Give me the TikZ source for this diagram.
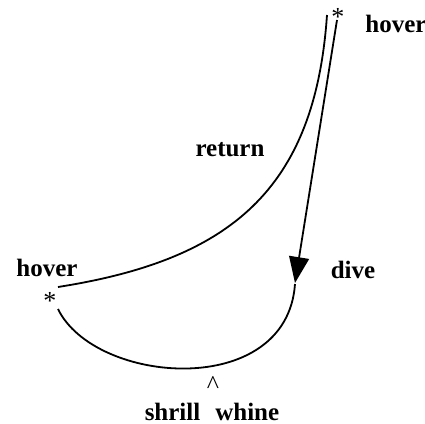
\documentclass[tikz,border=0pt]{standalone}
\usepackage{fontspec}
\setmainfont{Liberation Serif}
\usepackage{tikz}
\usetikzlibrary{arrows.meta,positioning}

\begin{document}
\begin{tikzpicture}[x=0.5pt,y=-0.5pt,line width=0.9pt]
\tikzstyle{lbl}=[inner sep=0pt,font=\fontsize{12.5}{14}\selectfont\bfseries]
\tikzstyle{sym}=[inner sep=0pt,font=\fontsize{13}{14}\selectfont]
\useasboundingbox (0,0) rectangle (425,424);
\node[sym] (tstar) at (338,17) {*};
\node[sym] (lstar) at (50,301) {*};
\node[lbl] (thover) at (396,24) {hover};
\node[lbl] (lhover) at (47,268) {hover};
\node[lbl] (ret) at (230,150) {return};
\node[lbl] (dive) at (353,270) {dive};
\node[sym] (caret) at (213,385) {\textasciicircum};
\node[lbl] (whine) at (212,412) {shrill\hspace{0.6em}whine};
\coordinate (retA) at (327,15);
\coordinate (retB) at (58,287);
\coordinate (diveA) at (337,20);
\coordinate (diveB) at (295,283);
\coordinate (lowA) at (295,284);
\coordinate (lowB) at (58,309);
\draw (retA) .. controls (315,190) and (230,260) .. (retB);
\draw[-{Triangle[width=10pt,length=13pt]}] (diveA) -- (diveB);
\draw (lowA) .. controls (287,400) and (95,385) .. (lowB);
\end{tikzpicture}
\end{document}
